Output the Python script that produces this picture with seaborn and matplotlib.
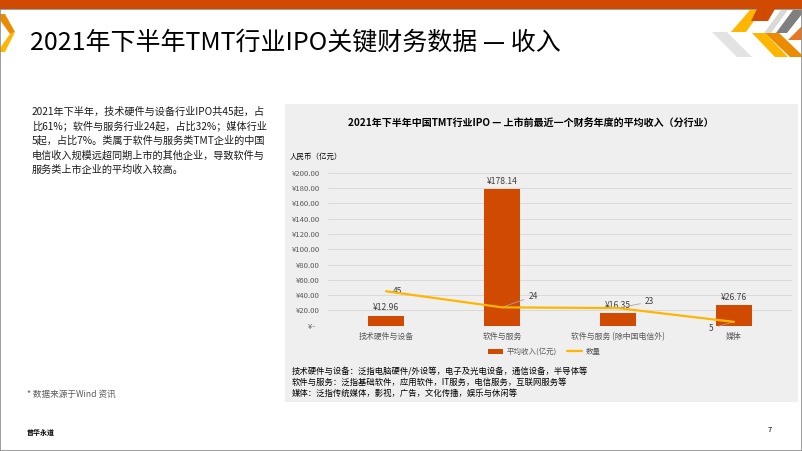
import matplotlib
matplotlib.use("Agg")
import matplotlib.pyplot as plt
import seaborn as sns
import pandas as pd
import numpy as np
from matplotlib.patches import Rectangle, Polygon, Patch
from matplotlib.lines import Line2D

# ---------------- data ----------------
categories = ["技术硬件与设备", "软件与服务", "软件与服务 (除中国电信外)", "媒体"]
avg_revenue = [12.96, 178.14, 16.35, 26.76]
ipo_counts = [45, 24, 23, 5]
y_ticks = [0, 20, 40, 60, 80, 100, 120, 140, 160, 180, 200]
y_tick_labels = ["¥-   ", "¥20.00", "¥40.00", "¥60.00", "¥80.00", "¥100.00",
                 "¥120.00", "¥140.00", "¥160.00", "¥180.00", "¥200.00"]
legend_labels = ["平均收入(亿元)", "数量"]

slide_title = "2021年下半年TMT行业IPO关键财务数据 — 收入"
chart_title = "2021年下半年中国TMT行业IPO — 上市前最近一个财务年度的平均收入（分行业）"
unit_label = "人民币（亿元）"
paragraph = [
    "2021年下半年，技术硬件与设备行业IPO共45起，占",
    "比61%；软件与服务行业24起，占比32%；媒体行业",
    "5起，占比7%。类属于软件与服务类TMT企业的中国",
    "电信收入规模远超同期上市的其他企业，导致软件与",
    "服务类上市企业的平均收入较高。",
]
notes = [
    "技术硬件与设备：泛指电脑硬件/外设等，电子及光电设备，通信设备，半导体等",
    "软件与服务：泛指基础软件，应用软件，IT服务，电信服务，互联网服务等",
    "媒体：泛指传统媒体，影视，广告，文化传播，娱乐与休闲等",
]
source_note = "* 数据来源于Wind 资讯"
footer_left = "普华永道"
footer_right = "7"

# ---------------- style ----------------
sns.set_style("white")
plt.rcParams["font.family"] = ["Noto Sans CJK SC", "DejaVu Sans"]

ORANGE = "#D04A02"
YELLOW = "#FFB600"
GRAY_TXT = "#595959"

W, H = 802, 451
fig = plt.figure(figsize=(W / 100, H / 100), dpi=100)
fig.patch.set_facecolor("white")


def fx(x):
    return x / W


def fy(y):
    return 1 - y / H


def poly(pts, color, z=1):
    fig.patches.append(Polygon([(fx(x), fy(y)) for x, y in pts], closed=True,
                               transform=fig.transFigure, facecolor=color,
                               edgecolor="none", zorder=z))


# top bar
fig.patches.append(Rectangle((0, fy(9)), 1, 9 / H, transform=fig.transFigure,
                             facecolor=ORANGE, edgecolor="none", zorder=2))
# right decoration
poly([(712, 32), (727, 32), (752, 57), (737, 57)], "#E3E3E3")
poly([(731, 32), (746, 32), (762, 10), (750, 10)], YELLOW)
poly([(752, 33), (765, 33), (788, 57), (775, 57)], YELLOW)
poly([(765, 33), (779, 33), (802, 55), (802, 57), (790, 57)], "#EB8C00")
poly([(757, 9), (775, 9), (768, 21), (751, 21)], ORANGE, 3)
poly([(764, 33), (781, 10), (788, 10), (771, 33)], "#D9D9D9")
poly([(776, 33), (793, 10), (802, 10), (802, 14), (787, 33)], "#7F7F7F")
poly([(788, 40), (802, 26), (802, 40)], "#E87722")
# left decoration
poly([(0, 14), (5, 14), (15, 32), (10, 34), (0, 20)], "#EB8C00")
poly([(0, 48), (10, 34), (15, 32), (5, 52), (0, 52)], YELLOW)

# slide border
fig.patches.append(Rectangle((0.0006, 0.001), 0.9988, fy(9) - 0.001,
                             transform=fig.transFigure, facecolor="none",
                             edgecolor="#8C8C8C", lw=1.2, zorder=1))

# title
fig.text(fx(30), fy(43), slide_title, fontsize=18, color="black",
         ha="left", va="center")

# paragraph
for i, line in enumerate(paragraph):
    fig.text(fx(32), fy(111 + 14.8 * i), line, fontsize=7.3, color="#1a1a1a",
             ha="left", va="center")

fig.text(fx(27), fy(394), source_note, fontsize=6.2, color=GRAY_TXT,
         ha="left", va="center")
fig.text(fx(27), fy(432), footer_left, fontsize=5, color="black",
         fontweight="bold", ha="left", va="center")
fig.text(fx(770), fy(430), footer_right, fontsize=5.5, color="black",
         ha="center", va="center")

# chart panel (behind axes)
fig.patches.append(Rectangle((fx(285), fy(402)), (798 - 285) / W, (402 - 104) / H,
                             transform=fig.transFigure, facecolor="#EFEFEF",
                             edgecolor="none", zorder=-5))
fig.text(fx(531), fy(124), chart_title, fontsize=7.2, fontweight="bold",
         color="black", ha="center", va="center")
fig.text(fx(290), fy(157), unit_label, fontsize=5.4, color="black",
         ha="left", va="center")

# chart axes
ax = fig.add_axes([fx(328), fy(325.7), (792 - 328) / W, (325.7 - 172.7) / H])
ax.set_facecolor("none")
ax.set_zorder(2)

df = pd.DataFrame({"category": categories, "revenue": avg_revenue,
                   "count": ipo_counts})
sns.barplot(data=df, x="category", y="revenue", color=ORANGE, saturation=1,
            width=0.31, linewidth=0, ax=ax, zorder=3)
sns.lineplot(x=np.arange(len(categories)), y=df["count"], color=YELLOW,
             lw=1.6, ax=ax, zorder=4)

ax.set_xlim(-0.5, 3.5)
ax.set_ylim(0, 200)
ax.set_yticks(y_ticks)
ax.set_yticklabels(y_tick_labels)
ax.set_xticks(range(len(categories)))
ax.set_xticklabels(categories)
ax.set_xlabel("")
ax.set_ylabel("")
ax.grid(axis="y", color="#D9D9D9", lw=0.7, zorder=0)
ax.grid(axis="x", visible=False)
ax.set_axisbelow(True)
for s in ax.spines.values():
    s.set_visible(False)
ax.tick_params(axis="y", length=0, pad=5.8, labelsize=5.6, labelcolor=GRAY_TXT)
ax.tick_params(axis="x", length=0, pad=4.5, labelsize=5.7, labelcolor=GRAY_TXT)

# bar labels
for cont in ax.containers:
    ax.bar_label(cont, labels=[f"¥{v:.2f}" for v in avg_revenue], padding=2.5,
                 fontsize=6.2, color="#404040")

# line labels
lab_kw = dict(fontsize=6, color="#404040", textcoords="offset points",
              va="center")
leader = dict(arrowstyle="-", color="#A6A6A6", lw=0.6, shrinkA=1, shrinkB=2)
ax.annotate(str(ipo_counts[0]), (0, ipo_counts[0]), xytext=(5, 0), ha="left",
            **lab_kw)
ax.annotate(str(ipo_counts[1]), (1, ipo_counts[1]), xytext=(19, 8), ha="left",
            arrowprops=leader, **lab_kw)
ax.annotate(str(ipo_counts[2]), (2, ipo_counts[2]), xytext=(19.5, 4.5), ha="left",
            arrowprops=leader, **lab_kw)
ax.annotate(str(ipo_counts[3]), (3, ipo_counts[3]), xytext=(-14.5, -4.5), ha="right",
            arrowprops=leader, **lab_kw)

# legend
handles = [Patch(facecolor=ORANGE, edgecolor="none"),
           Line2D([0], [0], color=YELLOW, lw=1.6)]
fig.legend(handles, legend_labels, loc="center", ncol=2, frameon=False,
           bbox_to_anchor=(fx(544), fy(352)), fontsize=5.4, labelcolor=GRAY_TXT,
           handlelength=2.0, handleheight=0.7, handletextpad=0.5,
           columnspacing=1.3)

# notes
for i, line in enumerate(notes):
    fig.text(fx(292), fy(371 + 11 * i), line, fontsize=6.0, color="black",
             ha="left", va="center")

fig.savefig("out.png", dpi=100)
